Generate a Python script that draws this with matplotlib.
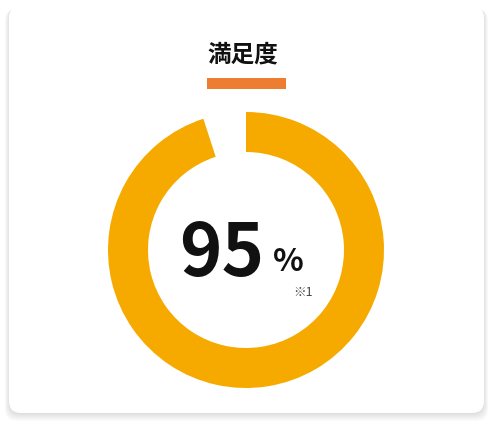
import numpy as np
import matplotlib.pyplot as plt
from matplotlib.patches import FancyBboxPatch

plt.rcParams['font.family'] = ['Noto Sans CJK JP', 'DejaVu Sans']

title = '満足度'
satisfied = 95
values = [satisfied, 100 - satisfied]
note = '※1'

W, H = 493, 426
fig = plt.figure(figsize=(W / 100, H / 100), dpi=100)
fig.patch.set_facecolor('white')

bg = fig.add_axes([0, 0, 1, 1])
bg.set_xlim(0, W)
bg.set_ylim(H, 0)
bg.axis('off')

# soft shadow under the card
for i in range(8):
    off = 1 + i
    bg.add_patch(FancyBboxPatch((9 - i * 0.6, 6 + off * 0.4), 475 + i * 1.2, 407 + off * 0.6,
                                boxstyle='round,pad=0,rounding_size=12',
                                fc='black', ec='none', alpha=0.014))
bg.add_patch(FancyBboxPatch((9, 6), 475, 407, boxstyle='round,pad=0,rounding_size=12',
                            fc='white', ec='none'))

bg.text(243, 61, title, ha='center', va='baseline', fontsize=17, fontweight='bold', color='#111111')
bg.add_patch(plt.Rectangle((207, 78), 79, 11, fc='#ED7D31', ec='none'))

# donut
cx, cy, r = 246, 250, 138
ax = fig.add_axes([(cx - r) / W, (H - cy - r) / H, 2 * r / W, 2 * r / H])
ax.pie(values, colors=['#F6AA00', 'none'], startangle=90, counterclock=False,
       wedgeprops=dict(width=40 / r, edgecolor='none'), radius=1)
ax.set_xlim(-1, 1)
ax.set_ylim(-1, 1)
ax.set_aspect('equal')

bg.text(222, 276, str(satisfied), ha='center', va='baseline', fontsize=52, fontweight='bold', color='#111111')
bg.text(288, 271, '%', ha='center', va='baseline', fontsize=23, fontweight='bold', color='#111111')
bg.text(303, 296, note, ha='center', va='baseline', fontsize=9, color='#444444')

fig.savefig('out.png', dpi=100, facecolor='white')
